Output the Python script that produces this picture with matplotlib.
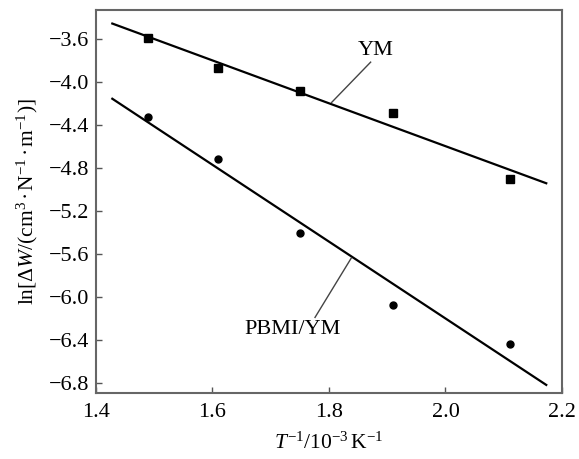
import numpy as np
import matplotlib
matplotlib.use("Agg")
import matplotlib.pyplot as plt

# Data
x_vals = [1.49, 1.61, 1.75, 1.91, 2.11]
ym_vals = [-3.59, -3.87, -4.08, -4.29, -4.90]
pbmi_vals = [-4.33, -4.72, -5.40, -6.07, -6.44]
fit_range = [1.428, 2.173]
x_ticks = [1.4, 1.6, 1.8, 2.0, 2.2]
y_ticks = [-3.6, -4.0, -4.4, -4.8, -5.2, -5.6, -6.0, -6.4, -6.8]

plt.rcParams['font.family'] = ['Liberation Serif', 'DejaVu Serif']
plt.rcParams['mathtext.fontset'] = 'custom'
plt.rcParams['mathtext.rm'] = 'Liberation Serif'
plt.rcParams['mathtext.it'] = 'Liberation Serif:italic'
plt.rcParams['mathtext.bf'] = 'Liberation Serif:bold'

fig = plt.figure(figsize=(5.79, 4.59), dpi=100)
ax = fig.add_axes([0.1658, 0.1438, 0.9706 - 0.1658, 0.9782 - 0.1438])

xf = np.array(fit_range)
for vals in (ym_vals, pbmi_vals):
    k, b = np.polyfit(x_vals, vals, 1)
    ax.plot(xf, k * xf + b, color='black', lw=1.6)

ax.plot(x_vals, ym_vals, 's', color='black', ms=5.5)
ax.plot(x_vals, pbmi_vals, 'o', color='black', ms=5)

ax.set_xlim(1.4, 2.2)
ax.set_ylim(-6.893, -3.33)
ax.set_xticks(x_ticks)
ax.set_xticklabels([f"{v:.1f}" for v in x_ticks])
ax.set_yticks(y_ticks)
ax.set_yticklabels([f"\u2212{abs(v):.1f}" for v in y_ticks])
ax.tick_params(direction='in', length=4, width=1, labelsize=16, color='#555555')
ax.tick_params(axis='y', pad=5)
ax.tick_params(axis='x', pad=7)
for s in ax.spines.values():
    s.set_color('#666666')
    s.set_linewidth(1.5)

# annotations
ax.text(1.880, -3.705, 'YM', fontsize=16, ha='center', va='center')
ax.plot([1.8715, 1.8045], [-3.815, -4.19], color='#444444', lw=1)
ax.text(1.738, -6.30, 'PBMI/YM', fontsize=16, ha='center', va='center')
ax.plot([1.776, 1.838], [-6.19, -5.64], color='#444444', lw=1)

ax.set_ylabel(r'$\mathrm{ln}[\Delta W/(\mathrm{cm}^{3}\bullet\mathrm{N}^{-1}\bullet\mathrm{m}^{-1})]$',
              fontsize=15.5, labelpad=6)
ax.set_xlabel(r'$T^{-1}/10^{-3}\,\mathrm{K}^{-1}$', fontsize=15.5, labelpad=8)

fig.savefig('out.png', dpi=100)
